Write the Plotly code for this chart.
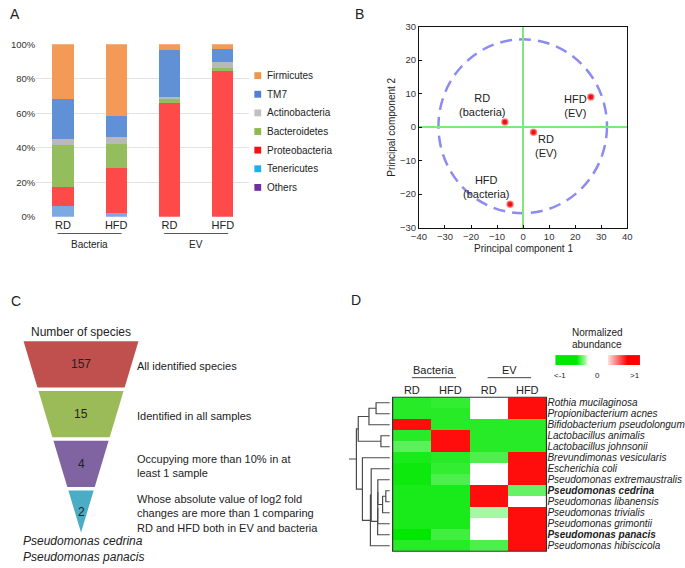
import numpy as np
import plotly.graph_objects as go

W, H = 685, 568
FONT = "Arial, 'Liberation Sans', sans-serif"
TXT = "#222222"


def px(x):
    return x / W


def py(y):
    return 1 - y / H


# ---------------- Panel A data ----------------
a_samples = ["RD", "HFD", "RD", "HFD"]
a_groups = ["Bacteria", "EV"]
a_group_members = [[0, 1], [2, 3]]
a_phyla = ["Firmicutes", "TM7", "Actinobacteria", "Bacteroidetes",
           "Proteobacteria", "Tenericutes", "Others"]
firmicutes = [31.7, 41.7, 3.2, 2.5]
tm7 = [23.3, 11.8, 27.5, 7.7]
actinobacteria = [3.3, 4.2, 1.3, 3.8]
bacteroidetes = [24.7, 13.8, 2.0, 1.6]
proteobacteria = [10.7, 26.0, 66.0, 84.4]
tenericutes = [6.3, 2.5, 0.0, 0.0]
others = [0.0, 0.0, 0.0, 0.0]
a_values = {"Firmicutes": firmicutes, "TM7": tm7, "Actinobacteria": actinobacteria,
            "Bacteroidetes": bacteroidetes, "Proteobacteria": proteobacteria,
            "Tenericutes": tenericutes, "Others": others}
a_bar_colors = {"Firmicutes": "#f39a56", "TM7": "#6090d6", "Actinobacteria": "#b9b9b9",
                "Bacteroidetes": "#94bd5e", "Proteobacteria": "#ff4a4a",
                "Tenericutes": "#7aaae0", "Others": "#7030a0"}
a_legend_colors = {"Firmicutes": "#f0964a", "TM7": "#4f81d0", "Actinobacteria": "#c0c0c0",
                   "Bacteroidetes": "#8fb84e", "Proteobacteria": "#f01414",
                   "Tenericutes": "#1cb0ec", "Others": "#7030a0"}
a_ticks = [0, 20, 40, 60, 80, 100]

# ---------------- Panel B data ----------------
pca_labels = ["RD<br>(bacteria)", "RD<br>(EV)", "HFD<br>(EV)", "HFD<br>(bacteria)"]
pc1 = [-7.0, 4.0, 26.0, -5.0]
pc2 = [1.5, -1.5, 9.0, -23.0]
pca_label_shift = [(-23, 17), (12, -14), (-15, -9), (-24, 17)]
pca_ellipse = dict(x0=-32.5, x1=32.2, y0=-25.7, y1=26.2)

# ---------------- Panel C data ----------------
funnel_counts = [157, 15, 4, 2]
funnel_text = ["All identified species",
               "Identified in all samples",
               "Occupying more than 10% in at<br>least 1 sample",
               "Whose absolute value of log2 fold<br>changes are more than 1 comparing<br>RD and HFD both in EV and bacteria"]
funnel_colors = ["#c0504d", "#9bbb59", "#8064a2", "#4bacc6"]
funnel_result = ["Pseudomonas cedrina", "Pseudomonas panacis"]

# ---------------- Panel D data ----------------
hm_samples = ["RD", "HFD", "RD", "HFD"]
hm_groups = ["Bacteria", "EV"]
hm_species = ["Rothia mucilaginosa", "Propionibacterium acnes", "Bifidobacterium pseudolongum",
              "Lactobacillus animalis", "Lactobacillus johnsonii", "Brevundimonas vesicularis",
              "Escherichia coli", "Pseudomonas extremaustralis", "Pseudomonas cedrina",
              "Pseudomonas libanensis", "Pseudomonas trivialis", "Pseudomonas grimontii",
              "Pseudomonas panacis", "Pseudomonas hibiscicola"]
hm_bold = ["Pseudomonas cedrina", "Pseudomonas panacis"]
hm_z = [
    [-0.85, -0.80, 0.00, 0.95],
    [-0.85, -0.85, 0.00, 0.95],
    [0.95, -0.85, -0.85, -0.85],
    [-0.85, 0.95, -0.85, -0.85],
    [-0.65, 0.95, -0.85, -0.85],
    [-0.90, -0.85, -0.70, 0.95],
    [-0.95, -0.80, 0.00, 0.95],
    [-0.95, -0.70, 0.00, 0.95],
    [-0.90, -0.90, 0.95, -0.60],
    [-0.90, -0.90, 0.95, 0.00],
    [-0.90, -0.90, -0.35, 0.95],
    [-0.90, -0.90, 0.00, 0.95],
    [-1.00, -0.75, 0.00, 0.95],
    [-0.85, -0.85, -0.70, 0.95],
]
# dendrogram merges: (child a, child b, merge height); new nodes numbered from 14
dendro_merges = [
    (0, 1, 14.0), (14, 2, 21.3), (3, 4, 9.0), (15, 16, 32.3),
    (8, 9, 4.0), (18, 10, 7.3), (7, 19, 12.2), (20, 11, 12.3), (21, 12, 12.4),
    (6, 22, 19.0), (23, 13, 19.8), (5, 24, 28.0), (17, 25, 34.2),
]
dendro_root_stub = 42.0
hm_colorscale = [[0.0, "rgb(0,232,0)"], [0.5, "rgb(255,255,255)"], [1.0, "rgb(255,0,0)"]]

fig = go.Figure()
ann = []
shapes = []


def text(x, y, s, size=11, xref="paper", yref="paper", xanchor="center", yanchor="middle",
         color=TXT, align="center", **kw):
    ann.append(dict(x=x, y=y, xref=xref, yref=yref, text=s, showarrow=False,
                    xanchor=xanchor, yanchor=yanchor, align=align,
                    font=dict(family=FONT, size=size, color=color), **kw))


# ================= Panel A =================
a_pos = list(range(len(a_samples)))
for name in reversed(a_phyla):
    fig.add_trace(go.Bar(x=a_pos, y=a_values[name], name=name, width=0.4,
                         marker=dict(color=a_bar_colors[name], line=dict(width=0)),
                         xaxis="x", yaxis="y", showlegend=False, hoverinfo="skip"))
for gi, g in enumerate(a_groups):
    mem = a_group_members[gi]
    x0, x1 = min(mem) - 0.1, max(mem) + 0.1
    shapes.append(dict(type="line", xref="x", yref="paper", x0=x0, x1=x1,
                       y0=py(232), y1=py(232), line=dict(color="#555555", width=1)))
    text(sum(mem) / len(mem), py(243), g, size=10, xref="x")
# legend
for i, name in enumerate(a_phyla):
    yc = 71 + 19 * i
    shapes.append(dict(type="rect", xref="paper", yref="paper", x0=px(253), x1=px(260),
                       y0=py(yc + 3.5), y1=py(yc - 3.5), fillcolor=a_legend_colors[name],
                       line=dict(width=0)))
    text(px(264), py(yc), name, size=10, xanchor="left")

# ================= Panel B =================
fig.add_trace(go.Scatter(x=pc1, y=pc2, mode="markers", xaxis="x2", yaxis="y2",
                         marker=dict(color="#ee1111", size=6,
                                     line=dict(color="rgba(255,110,110,0.8)", width=1.5)),
                         showlegend=False, hoverinfo="skip"))
for lab, xv, yv, (dx, dy) in zip(pca_labels, pc1, pc2, pca_label_shift):
    ann.append(dict(x=xv, y=yv, xref="x2", yref="y2", text=lab, showarrow=False,
                    xshift=dx, yshift=dy, font=dict(family=FONT, size=11, color=TXT)))
shapes.append(dict(type="circle", xref="x2", yref="y2", layer="below",
                   line=dict(color="#8c8cf0", width=2.5, dash="12px,7px"), **pca_ellipse))
text(px(529), py(247), "Principal component 1", size=10)
text(px(393), py(123.5), "Principal component 2", size=10, textangle=-90)

# ================= Panel C =================
cx, top0, apex, half0 = 75.0, 342.0, 537.0, 59.0
pitch, seg_h = 50.7, 47.0


def half_w(y):
    return half0 * (apex - y) / (apex - top0)


for i, (cnt, desc, col) in enumerate(zip(funnel_counts, funnel_text, funnel_colors)):
    t = top0 + i * pitch
    b = apex if i == len(funnel_counts) - 1 else t + seg_h
    xs = [cx - half_w(t), cx + half_w(t), cx + half_w(b), cx - half_w(b), cx - half_w(t)]
    ys = [t, t, b, b, t]
    fig.add_trace(go.Scatter(x=xs, y=ys, mode="lines", fill="toself", fillcolor=col,
                             line=dict(width=0, color=col), xaxis="x3", yaxis="y3",
                             showlegend=False, hoverinfo="skip"))
    mid = (t + b) / 2
    text(cx, mid, str(cnt), size=12, xref="x3", yref="y3")
    text(130, mid + 2, desc, size=11, xref="x3", yref="y3", xanchor="left", align="left")
text(cx, 332, "Number of species", size=12, xref="x3", yref="y3")
text(13, 553.5, "<br>".join("<i>%s</i>" % s for s in funnel_result), size=12,
     xref="x3", yref="y3", xanchor="left", align="left")

# ================= Panel D =================
hm_x = list(range(len(hm_samples)))
hm_y = list(range(len(hm_species)))
fig.add_trace(go.Heatmap(z=hm_z, x=hm_x, y=hm_y, colorscale=hm_colorscale, zmin=-1, zmax=1,
                         showscale=False, xaxis="x4", yaxis="y4", hoverinfo="skip"))
shapes.append(dict(type="rect", xref="x4 domain", yref="y4 domain", x0=0, x1=1, y0=0, y1=1,
                   line=dict(color="#333333", width=1.2)))
hm_ticktext = [("<b><i>%s</i></b>" % s) if s in hm_bold else ("<i>%s</i>" % s) for s in hm_species]
hm_group_span = [(0.0, 1.15), (1.97, 3.1)]
for g, (x0, x1) in zip(hm_groups, hm_group_span):
    shapes.append(dict(type="line", xref="x4", yref="paper", x0=x0, x1=x1,
                       y0=py(379), y1=py(379), line=dict(color="#444444", width=1)))
    text((x0 + x1) / 2, py(371), g, size=11, xref="x4")

# dendrogram
n = len(hm_species)
node_y = {i: float(i) for i in range(n)}
node_h = {i: 0.0 for i in range(n)}
dx, dy = [], []
for k, (a, b, h) in enumerate(dendro_merges):
    dx += [node_h[a], h, h, node_h[b], None]
    dy += [node_y[a], node_y[a], node_y[b], node_y[b], None]
    node_y[n + k] = (node_y[a] + node_y[b]) / 2
    node_h[n + k] = h
root = n + len(dendro_merges) - 1
dx += [node_h[root], dendro_root_stub]
dy += [node_y[root], node_y[root]]
fig.add_trace(go.Scatter(x=dx, y=dy, mode="lines", line=dict(color="#4a4a4a", width=1.2),
                         xaxis="x5", yaxis="y4", showlegend=False, hoverinfo="skip"))

# colour key
key_x = list(range(562, 649))
key_z = []
for xk in key_x:
    if xk < 583:
        key_z.append(-1.0)
    elif xk < 596:
        key_z.append(-1.0 + (xk - 583) / 13.0 * 0.95)
    elif xk < 616:
        key_z.append(None)
    elif xk < 635:
        key_z.append(0.15 + (xk - 616) / 19.0 * 0.85)
    else:
        key_z.append(1.0)
fig.add_trace(go.Heatmap(z=[key_z], x=key_x, y=[0], colorscale=hm_colorscale, zmin=-1, zmax=1,
                         showscale=False, xaxis="x6", yaxis="y6", hoverinfo="skip"))
text(px(605), py(333), "Normalized", size=10)
text(px(605), py(345), "abundance", size=10)
text(px(567), py(377), "&lt;-1", size=8)
text(px(605), py(377), "0", size=8)
text(px(644), py(377), "&gt;1", size=8)

# panel letters
text(px(7), py(8), "A", size=14)
text(px(361), py(8), "B", size=14)
text(px(8), py(301), "C", size=14)
text(px(357), py(300), "D", size=14)

hidden = dict(visible=False, showgrid=False, zeroline=False)
tickf = dict(family=FONT, size=9.5, color="#333333")
fig.update_layout(
    width=W, height=H, margin=dict(l=0, r=0, t=0, b=0),
    paper_bgcolor="white", plot_bgcolor="white", barmode="stack", showlegend=False,
    hovermode=False, font=dict(family=FONT, color=TXT),
    xaxis=dict(domain=[px(29), px(248)], range=[-0.5, 3.5], tickvals=a_pos, ticktext=a_samples,
               showgrid=False, zeroline=False, showline=False, ticks="",
               tickfont=dict(family=FONT, size=11, color=TXT), anchor="y"),
    yaxis=dict(domain=[py(215), py(39)], range=[0, 100], tickvals=a_ticks,
               ticktext=["%d%%" % v for v in a_ticks],
               showgrid=True, gridcolor="#e3e3e3", gridwidth=1, zeroline=False, showline=False,
               ticks="", tickfont=tickf, anchor="x"),
    xaxis2=dict(domain=[px(422), px(636)], range=[-40, 40], dtick=10, showgrid=False,
                zeroline=True, zerolinecolor="#7ee77e", zerolinewidth=2,
                showline=True, mirror=True, linecolor="#111111", linewidth=1,
                ticks="inside", ticklen=3, tickcolor="#111111", tickfont=tickf, anchor="y2"),
    yaxis2=dict(domain=[py(226), py(21)], range=[-30, 30], dtick=10, showgrid=False,
                zeroline=True, zerolinecolor="#7ee77e", zerolinewidth=2,
                showline=True, mirror=True, linecolor="#111111", linewidth=1,
                ticks="inside", ticklen=3, tickcolor="#111111", tickfont=tickf, anchor="x2"),
    xaxis3=dict(domain=[0, px(350)], range=[0, 350], anchor="y3", **hidden),
    yaxis3=dict(domain=[0, py(290)], range=[568, 290], anchor="x3", **hidden),
    xaxis4=dict(domain=[px(395), px(553)], range=[-0.5, 3.5], side="top", tickvals=hm_x,
                ticktext=hm_samples, showgrid=False, zeroline=False, showline=False, ticks="",
                tickfont=dict(family=FONT, size=11, color=TXT), anchor="y4"),
    yaxis4=dict(domain=[py(556), py(399)], range=[13.5, -0.5], side="right", tickvals=hm_y,
                ticktext=hm_ticktext, showgrid=False, zeroline=False, showline=False, ticks="",
                tickfont=dict(family=FONT, size=10, color=TXT), anchor="x4"),
    xaxis5=dict(domain=[px(350), px(394)], range=[dendro_root_stub, -2], anchor="y4", **hidden),
    xaxis6=dict(domain=[px(562), px(649)], range=[561.5, 648.5], anchor="y6", **hidden),
    yaxis6=dict(domain=[py(366), py(356)], range=[-0.5, 0.5], anchor="x6", **hidden),
    annotations=ann, shapes=shapes,
)
fig.write_html("out.html", config={"displayModeBar": False},
               post_script="document.body.style.margin='0px';")
